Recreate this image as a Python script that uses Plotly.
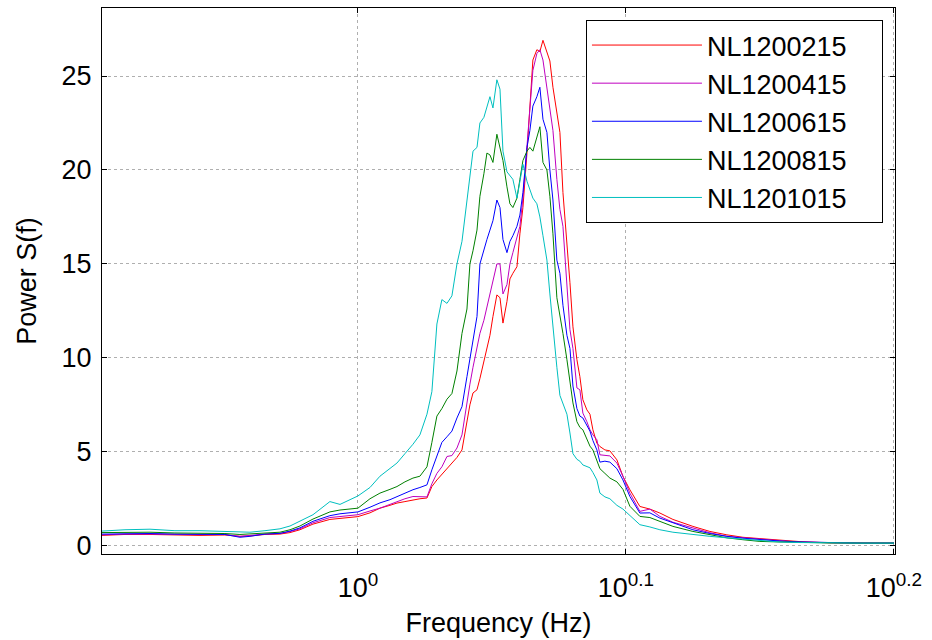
import plotly.graph_objects as go

# Frequency axis (Hz), shared by all records
FREQ_HZ = [0.8026, 0.8186, 0.8364, 0.8545, 0.8731, 0.8920, 0.9036, 0.9114, 0.9232, 0.9352,
           0.9433, 0.9514, 0.9621, 0.9762, 0.9847, 1.0000, 1.0104, 1.0191, 1.0279, 1.0341,
           1.0412, 1.0484, 1.0547, 1.0611, 1.0656, 1.0702, 1.0748, 1.0795, 1.0841, 1.0888,
           1.0935, 1.0982, 1.1010, 1.1039, 1.1077, 1.1105, 1.1143, 1.1172, 1.1201, 1.1230,
           1.1268, 1.1298, 1.1327, 1.1366, 1.1395, 1.1424, 1.1464, 1.1493, 1.1523, 1.1563,
           1.1592, 1.1622, 1.1662, 1.1692, 1.1723, 1.1763, 1.1793, 1.1824, 1.1864, 1.1895,
           1.1926, 1.1967, 1.1998, 1.2029, 1.2070, 1.2101, 1.2132, 1.2174, 1.2206, 1.2237,
           1.2279, 1.2311, 1.2364, 1.2417, 1.2492, 1.2557, 1.2632, 1.2741, 1.2851, 1.2962,
           1.3108, 1.3335, 1.3531, 1.3730, 1.3920, 1.4125, 1.4370, 1.4619, 1.5001, 1.5392,
           1.5850]

# Power spectra S(f) for each record
NL1200215 = [0.55, 0.60, 0.60, 0.57, 0.55, 0.57, 0.50, 0.52, 0.60, 0.62, 0.70, 0.85, 1.15, 1.40, 1.45, 1.55,
             1.75, 2.00, 2.15, 2.27, 2.35, 2.45, 2.50, 2.54,
             3.15, 3.50, 3.80, 4.13, 4.40, 4.70, 5.10, 6.70,
             7.50, 8.13, 8.30, 8.90, 9.80, 10.4, 11.2, 12.2,
             13.35, 13.2, 11.85, 13.0, 14.2, 14.5, 14.85, 16.6,
             18.0, 20.9, 23.4, 25.85, 26.4, 26.3, 26.9, 26.2,
             25.8, 24.4, 23.0, 22.0, 18.8, 16.3, 14.0, 11.65,
             9.9, 9.0, 7.77, 7.23, 7.0, 6.17, 5.46, 5.28,
             5.1, 5.05, 4.57, 3.69, 2.98, 2.09, 1.95, 1.74, 1.40, 1.03, 0.76, 0.58, 0.45, 0.38,
             0.30, 0.22, 0.15, 0.14, 0.14]

NL1200415 = [0.58, 0.62, 0.62, 0.60, 0.60, 0.60, 0.50, 0.55, 0.62, 0.65, 0.75, 0.90, 1.22, 1.50, 1.55, 1.65,
             1.85, 2.0, 2.2, 2.36, 2.5, 2.62, 2.6, 2.6,
             3.3, 3.85, 4.2, 4.75, 4.8, 5.2, 5.9, 7.77,
             8.6, 9.5, 10.6, 11.3, 12.0, 12.7, 13.3, 14.0,
             15.0, 15.0, 13.4, 13.9, 15.0, 15.6, 16.4, 17.0,
             18.5, 21.1, 23.0, 25.3, 26.2, 26.4, 25.85, 24.4,
             23.4, 22.1, 19.5, 17.9, 17.0, 14.0, 11.5, 10.5,
             8.4, 8.3, 7.06, 6.6, 6.17, 5.9, 5.64, 4.84,
             4.8, 4.78, 4.4, 3.7, 2.8, 1.83, 1.95, 1.56, 1.25, 0.94, 0.69, 0.50, 0.42, 0.35,
             0.27, 0.20, 0.15, 0.14, 0.14]

NL1200615 = [0.62, 0.65, 0.65, 0.62, 0.63, 0.60, 0.45, 0.50, 0.62, 0.66, 0.78, 0.95, 1.30, 1.60, 1.70, 1.80,
             2.05, 2.28, 2.45, 2.62, 2.8, 2.98, 3.1, 3.24,
             4.04, 4.75, 5.5, 5.8, 6.1, 6.8, 7.4, 9.0,
             9.9, 11.0, 12.2, 15.0, 15.8, 16.3, 16.8, 17.3,
             18.4, 18.0, 16.3, 15.6, 16.2, 16.5, 17.0, 17.6,
             18.8, 21.2, 22.1, 23.4, 23.9, 24.4, 22.7, 22.0,
             20.0, 18.4, 15.2, 14.5, 12.8, 11.2, 10.5, 8.5,
             7.3, 6.9, 6.8, 6.4, 6.1, 5.6, 5.1, 4.45,
             4.5, 4.45, 4.1, 3.5, 2.62, 1.74, 1.75, 1.47, 1.21, 0.85, 0.65, 0.50, 0.40, 0.32,
             0.25, 0.20, 0.15, 0.14, 0.14]

NL1200815 = [0.70, 0.72, 0.72, 0.68, 0.68, 0.65, 0.60, 0.62, 0.68, 0.72, 0.85, 1.05, 1.42, 1.80, 1.90, 2.00,
             2.5, 2.8, 3.0, 3.15, 3.4, 3.6, 3.7, 4.2,
             5.5, 6.9, 7.3, 7.8, 8.1, 9.3, 11.3, 12.6,
             15.0, 15.7, 16.8, 18.6, 19.8, 20.9, 20.8, 20.4,
             21.9, 21.2, 20.5, 19.1, 18.2, 18.0, 18.5, 19.5,
             20.5, 21.0, 21.2, 21.0, 21.8, 22.3, 20.4, 20.0,
             18.6, 16.6, 13.2, 12.3, 11.3, 9.9, 8.8, 7.6,
             6.6, 6.3, 6.17, 5.7, 5.3, 5.1, 4.5, 4.1,
             3.85, 3.6, 3.4, 3.0, 2.1, 1.56, 1.5, 1.3, 1.03, 0.76, 0.58, 0.42, 0.32, 0.23,
             0.20, 0.17, 0.15, 0.14, 0.14]

NL1201015 = [0.78, 0.85, 0.88, 0.80, 0.80, 0.75, 0.70, 0.72, 0.80, 0.90, 1.05, 1.30, 1.65, 2.35, 2.20, 2.65,
             3.1, 3.7, 4.1, 4.4, 4.9, 5.4, 5.9, 7.0,
             8.2, 11.8, 13.1, 12.9, 13.3, 15.0, 16.2, 18.4,
             19.6, 21.0, 21.2, 22.5, 22.8, 23.4, 23.9, 23.3,
             24.8, 24.3, 21.0, 19.9, 19.7, 19.5, 18.5, 19.5,
             20.3, 19.4, 18.9, 18.5, 18.2, 17.5, 16.5, 15.2,
             13.4, 11.6, 9.5, 8.0, 7.6, 7.0, 6.0, 4.9,
             4.6, 4.5, 4.3, 4.2, 4.15, 3.9, 3.5, 2.8,
             2.6, 2.5, 2.15, 1.95, 1.6, 1.12, 1.0, 0.85, 0.72, 0.58, 0.50, 0.42, 0.35, 0.25,
             0.20, 0.17, 0.14, 0.14, 0.14]

SERIES = [
    ("NL1200215", NL1200215, "rgb(255,0,0)"),
    ("NL1200415", NL1200415, "rgb(191,0,191)"),
    ("NL1200615", NL1200615, "rgb(0,0,255)"),
    ("NL1200815", NL1200815, "rgb(0,128,0)"),
    ("NL1201015", NL1201015, "rgb(0,191,191)"),
]

X_TICKS = [1.0, 10 ** 0.1, 10 ** 0.2]
X_TICK_TEXT = ["10<sup>0</sup>", "10<sup>0.1</sup>", "10<sup>0.2</sup>"]
Y_TICKS = [0, 5, 10, 15, 20, 25]

FONT = "Liberation Sans, Arial, sans-serif"
LABEL_SIZE = 27

fig = go.Figure()
for name, values, color in SERIES:
    fig.add_trace(go.Scatter(
        x=FREQ_HZ, y=values, mode="lines",
        # trailing non-breaking spaces give the legend box its right-hand padding
        name=name + "&nbsp;" * 4,
        line=dict(color=color, width=1),
    ))

axis_common = dict(
    showline=True, linecolor="black", linewidth=1, mirror="ticks",
    ticks="inside", ticklen=5, tickcolor="black",
    showgrid=True, gridcolor="rgb(175,175,175)", griddash="dot", gridwidth=1,
    zeroline=False,
    tickfont=dict(family=FONT, size=LABEL_SIZE, color="black"),
)

fig.update_xaxes(
    type="log", range=[-0.0955, 0.2004],
    tickvals=X_TICKS, ticktext=X_TICK_TEXT,
    title=dict(text="Frequency (Hz)", font=dict(family=FONT, size=LABEL_SIZE, color="black"), standoff=10),
    ticklabelstandoff=10,
    **axis_common,
)
fig.update_yaxes(
    range=[-0.44, 28.62],
    tickvals=Y_TICKS,
    title=dict(text="Power S(f)", font=dict(family=FONT, size=LABEL_SIZE, color="black"), standoff=17),
    ticklabelstandoff=4,
    **axis_common,
)

fig.update_layout(
    width=932, height=640,
    margin=dict(l=102, r=37, t=8, b=86),
    paper_bgcolor="white", plot_bgcolor="white",
    font=dict(family=FONT, color="black"),
    legend=dict(
        x=0.6103, y=0.978, xanchor="left", yanchor="top",
        bgcolor="white", bordercolor="black", borderwidth=1,
        font=dict(family=FONT, size=27, color="black"),
        itemwidth=110, tracegroupgap=0,
    ),
    showlegend=True,
)

fig.write_html("out.html")
